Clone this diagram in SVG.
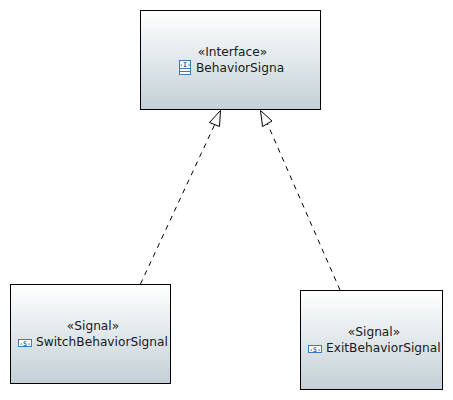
<svg xmlns="http://www.w3.org/2000/svg" width="453" height="400" viewBox="0 0 453 400">
<style>
.box{fill:url(#g);stroke:#000;stroke-width:1}
text{font-family:"DejaVu Sans",sans-serif;font-size:12.2px;fill:#1a1a1a}
.c{text-anchor:middle}
.dash{fill:none;stroke:#000;stroke-width:1;stroke-dasharray:5 5}
.head{fill:#fff;stroke:#000;stroke-width:1}
.ic{fill:#fff;stroke:#3a7ab8;stroke-width:1}
text.it{font-family:"DejaVu Sans Mono",monospace;font-size:6.500px;font-weight:bold;fill:#2a5f9e;text-anchor:middle}
</style>
<defs><linearGradient id="g" x1="0" y1="0" x2="0" y2="1"><stop offset="0" stop-color="#ffffff"/><stop offset="1" stop-color="#c3d0d6"/></linearGradient></defs>
<rect width="453" height="400" fill="#fff"/>
<g id="connectors">
<path class="dash" d="M140.500 284 L214.500 125"/>
<polygon class="head" points="220.500,110.500 219.500,126.500 209.500,122.500"/>
<path class="dash" d="M340 290 L267.500 124"/>
<polygon class="head" points="260.500,110.500 262.500,126.500 272,121"/>
</g>
<g id="node-behaviorsigna">
<rect class="box" x="140.500" y="10.500" width="180" height="99"/>
<text class="c" x="232.500" y="56">«Interface»</text>
<rect class="ic" x="179.500" y="60.500" width="11" height="14"/>
<path d="M180 68.500H190M180 71.500H190" stroke="#3a7ab8" fill="none"/>
<text class="it" x="185" y="67">‹I›</text>
<text x="196" y="72">BehaviorSigna</text>
</g>
<g id="node-switchbehaviorsignal">
<rect class="box" x="10.500" y="284.500" width="160" height="99"/>
<text class="c" x="93" y="330">«Signal»</text>
<rect class="ic" x="18.500" y="339.500" width="13" height="7"/>
<text class="it" x="25" y="345.500">‹S›</text>
<text x="36" y="346">SwitchBehaviorSignal</text>
</g>
<g id="node-exitbehaviorsignal">
<rect class="box" x="300.500" y="290.500" width="142" height="99"/>
<text class="c" x="374" y="336">«Signal»</text>
<rect class="ic" x="308.500" y="345.500" width="13" height="7"/>
<text class="it" x="315" y="351.500">‹S›</text>
<text x="326" y="352">ExitBehaviorSignal</text>
</g>
</svg>
